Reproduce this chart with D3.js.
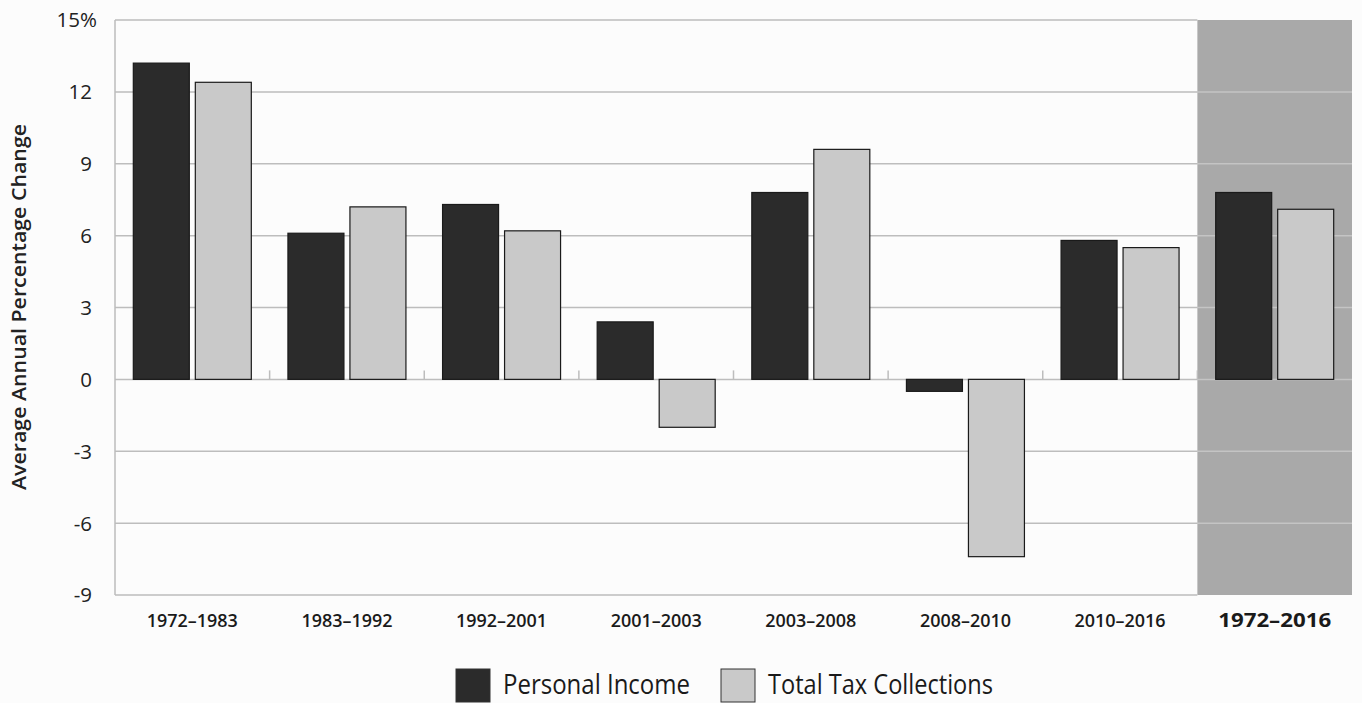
<!DOCTYPE html>
<html><head><meta charset="utf-8">
<script src="https://cdn.jsdelivr.net/npm/d3@7"></script>
<style>
body{margin:0;background:#fcfcfc;}
text{font-family:"Open Sans","Noto Sans",sans-serif;}
</style></head><body>
<svg id="c" width="1362" height="703"></svg>
<script>
const categories=["1972–1983","1983–1992","1992–2001","2001–2003","2003–2008","2008–2010","2010–2016","1972–2016"];
const personalIncome=[13.2,6.1,7.3,2.4,7.8,-0.5,5.8,7.8];
const totalTax=[12.4,7.2,6.2,-2.0,9.6,-7.4,5.5,7.1];
const yTicks=[15,12,9,6,3,0,-3,-6,-9];
const seriesNames=["Personal Income","Total Tax Collections"];
const colors=["#2b2b2b","#c9c9c9"];

const svg=d3.select("#c");
const m={l:115,r:1352,t:20,b:595};
const x=d3.scaleBand().domain(categories).range([m.l,m.r]);
const y=d3.scaleLinear().domain([-9,15]).range([m.b,m.t]);
const last=categories[categories.length-1];

svg.append("rect").attr("x",x(last)).attr("y",m.t).attr("width",x.bandwidth()).attr("height",m.b-m.t).attr("fill","#a9a9a9");

svg.append("g").selectAll("line").data(yTicks).join("line")
 .attr("x1",m.l).attr("x2",x(last)).attr("y1",d=>y(d)).attr("y2",d=>y(d))
 .attr("stroke","#bdbdbd").attr("stroke-width",1.5);
svg.append("g").selectAll("line").data(yTicks.filter(d=>d!==15&&d!==-9)).join("line")
 .attr("x1",x(last)).attr("x2",m.r).attr("y1",d=>y(d)).attr("y2",d=>y(d))
 .attr("stroke","#c4c4c4").attr("stroke-width",1.5);
svg.append("line").attr("x1",m.l).attr("x2",m.l).attr("y1",m.t).attr("y2",m.b).attr("stroke","#bdbdbd").attr("stroke-width",1.5);
svg.append("g").selectAll("line").data(categories.slice(1)).join("line")
 .attr("x1",d=>x(d)).attr("x2",d=>x(d)).attr("y1",y(0)).attr("y2",y(0)-9)
 .attr("stroke","#bdbdbd").attr("stroke-width",1.5);

svg.append("g").selectAll("text").data(yTicks).join("text")
 .attr("x",d=>d===15?97:92).attr("y",d=>y(d)).attr("dy","0.36em").attr("text-anchor","end")
 .attr("font-size",20.5).attr("fill","#222").text(d=>d===15?"15%":d);

const bw=56, gap=6;
[personalIncome,totalTax].forEach((vals,si)=>{
  svg.append("g").selectAll("rect").data(vals).join("rect")
   .attr("x",(d,i)=>x(categories[i])+x.bandwidth()/2+(si===0?-(bw+gap/2):gap/2))
   .attr("width",bw)
   .attr("y",d=>y(Math.max(0,d)))
   .attr("height",d=>Math.abs(y(d)-y(0)))
   .attr("fill",colors[si]).attr("stroke","#1a1a1a").attr("stroke-width",1.2);
});

svg.append("g").selectAll("text").data(categories).join("text")
 .attr("x",d=>x(d)+x.bandwidth()/2).attr("y",627).attr("text-anchor","middle")
 .attr("font-size",d=>d===last?19.5:18.5).attr("font-weight",d=>d===last?700:600)
 .attr("textLength",d=>d===last?113:91).attr("lengthAdjust","spacingAndGlyphs")
 .attr("fill","#1a1a1a").text(d=>d);

svg.append("text").attr("transform","translate(26,307) rotate(-90)").attr("text-anchor","middle")
 .attr("font-size",19.5).attr("font-weight",600).attr("textLength",366).attr("lengthAdjust","spacingAndGlyphs")
 .attr("fill","#222").text("Average Annual Percentage Change");

const leg=[{x:456,tx:503,w:187},{x:721,tx:768,w:225}];
seriesNames.forEach((n,i)=>{
  svg.append("rect").attr("x",leg[i].x).attr("y",669).attr("width",34).attr("height",33)
   .attr("fill",colors[i]).attr("stroke","#333").attr("stroke-width",1);
  svg.append("text").attr("x",leg[i].tx).attr("y",694).attr("font-size",27)
   .attr("textLength",leg[i].w).attr("lengthAdjust","spacingAndGlyphs").attr("fill","#1a1a1a").text(n);
});
</script></body></html>
